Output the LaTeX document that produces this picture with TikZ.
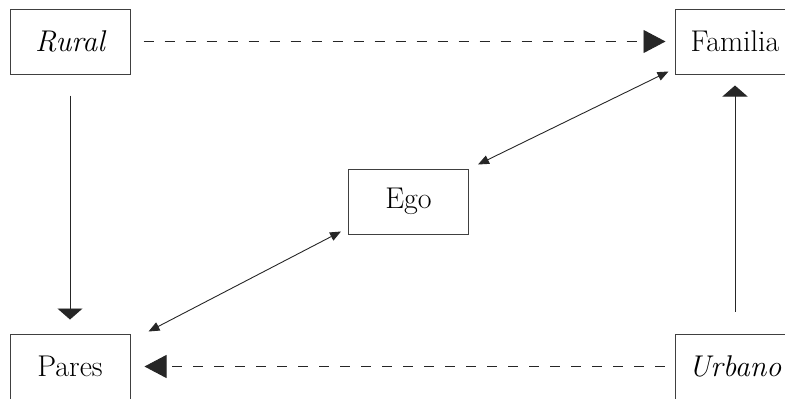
\documentclass[tikz,border=0pt]{standalone}
\usepackage{tikz}
\usetikzlibrary{arrows.meta, positioning}

\begin{document}
\begin{tikzpicture}[
          x=1pt, y=-1pt,
          box/.style={rectangle, draw=black!75, line width=1pt, minimum width=120pt, minimum height=65pt, inner sep=0pt, font=\fontsize{30}{36}\selectfont},
          conn/.style={line width=0.9pt, black!85},
          dashconn/.style={conn, dash pattern=on 10pt off 11pt, -{Triangle[length=22pt, width=23pt]}},
          vertconn/.style={conn, -{Triangle[length=11pt, width=25pt]}},
          egoconn/.style={conn, {Triangle[length=11pt, width=9pt]}-{Triangle[length=11pt, width=9pt]}}
        ]
          \useasboundingbox (0,0) rectangle (785,399);
          \clip (0,0) rectangle (785,399);

          % Corner boxes
          \node[box] (rural) at (70, 41.5) {\itshape Rural};
          \node[box] (familia) at (735, 41.5) {Familia};
          \node[box] (pares) at (70, 366.5) {Pares};
          \node[box] (urbano) at (735, 366.5) {\itshape Urbano};

          % Middle box
          \node[box] (ego) at (408.5, 201.5) {Ego};

          % Connections
          \draw[dashconn] ([xshift=13pt]rural.east) -- ([xshift=-9pt]familia.west);
          \draw[dashconn] ([xshift=-10pt]urbano.west) -- ([xshift=14pt]pares.east);

          \draw[vertconn] ([yshift=-21pt]rural.south) -- ([yshift=14pt]pares.north);
          \draw[vertconn] ([yshift=22pt]urbano.north) -- ([yshift=-11pt]familia.south);

          \draw[egoconn] ([shift={(9pt,4pt)}]ego.north east) -- ([shift={(-6pt,3pt)}]familia.south west);
          \draw[egoconn] ([shift={(18pt,2pt)}]pares.north east) -- ([shift={(-7pt,3pt)}]ego.south west);
        \end{tikzpicture}
\end{document}
